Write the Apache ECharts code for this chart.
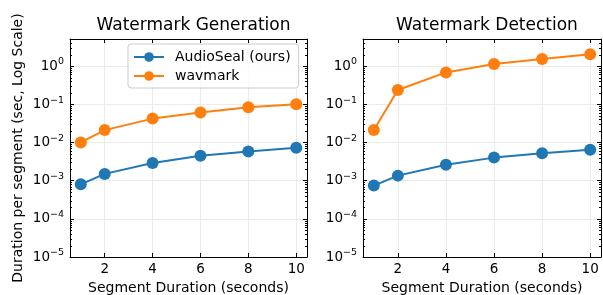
<!DOCTYPE html>
<html>
<head>
<meta charset="utf-8">
<script src="https://cdn.jsdelivr.net/npm/echarts@6/dist/echarts.min.js"></script>
<style>
  html, body { margin: 0; padding: 0; background: #fff; }
  #main { width: 603px; height: 295px; }
</style>
</head>
<body>
<div id="main"></div>
<script>
"use strict";

// segment durations (seconds)
var segments = [1, 2, 4, 6, 8, 10];

// watermark generation, sec per segment
var genAudioSeal = [0.0008, 0.0015, 0.0029, 0.0045, 0.0058, 0.0072];
var genWavmark = [0.010, 0.021, 0.042, 0.061, 0.083, 0.100];

// watermark detection, sec per segment
var detAudioSeal = [0.00074, 0.00135, 0.0026, 0.0040, 0.0052, 0.0064];
var detWavmark = [0.021, 0.235, 0.68, 1.13, 1.52, 2.02];

var seriesNames = ["AudioSeal (ours)", "wavmark"];
var titles = ["Watermark Generation", "Watermark Detection"];

var yMin = 1e-5, yMax = 5.1;
var xMin = 0.55, xMax = 10.45;

var blue = "#1f77b4", orange = "#ff7f0e";
var font = "DejaVu Sans";

// minor ticks of the log axis (2..9 x 10^k)
var minorTickValues = [];
for (var k = -5; k <= 0; k++) {
  for (var m = 2; m <= 9; m++) {
    var v = m * Math.pow(10, k);
    if (v <= yMax) minorTickValues.push(v);
  }
}

function pairs(ys) {
  return segments.map(function (x, i) { return [x, ys[i]]; });
}

function logLabel(v) {
  var e = Math.log10(v);
  var r = Math.round(e);
  if (Math.abs(e - r) > 1e-6) return "";
  var s = r < 0 ? "\u2212" + (-r) : String(r);
  return "{b|10}{s|" + s + "}";
}

function xLabel(v) {
  if (Math.abs(v - Math.round(v)) > 1e-6) return "";
  return String(Math.round(v));
}

var grids = [
  { left: 70, top: 39, width: 237, height: 218, outerBoundsMode: "none", containLabel: false },
  { left: 363, top: 39, width: 238, height: 218, outerBoundsMode: "none", containLabel: false }
];

var xAxes = [], yAxes = [], series = [];

grids.forEach(function (g, gi) {
  // bottom + top x axes
  xAxes.push({
    type: "value", gridIndex: gi, min: xMin, max: xMax, splitNumber: 5,
    position: "bottom",
    name: "Segment Duration (seconds)", nameLocation: "middle", nameGap: 22,
    nameTextStyle: { fontFamily: font, fontSize: 14, color: "#000" },
    axisLine: { show: true, onZero: false, lineStyle: { color: "#000", width: 1 } },
    axisTick: { show: true, inside: true, length: 4, lineStyle: { color: "#000" } },
    axisLabel: { formatter: xLabel, fontFamily: font, fontSize: 13.5, color: "#000", margin: 5 },
    splitLine: { show: true, lineStyle: { color: "#ebebeb", width: 1 } }
  });
  xAxes.push({
    type: "value", gridIndex: gi, min: xMin, max: xMax, splitNumber: 5,
    position: "top",
    axisLine: { show: true, onZero: false, lineStyle: { color: "#000", width: 1 } },
    axisTick: { show: true, inside: true, length: 4, lineStyle: { color: "#000" } },
    axisLabel: { show: false },
    splitLine: { show: false }
  });
  // left + right y axes
  yAxes.push({
    type: "log", logBase: 10, gridIndex: gi, min: yMin, max: yMax,
    position: "left",
    name: gi === 0 ? "Duration per segment (sec, Log Scale)" : "",
    nameLocation: "middle", nameGap: 45, nameRotate: 90,
    nameTextStyle: { fontFamily: font, fontSize: 14, color: "#000" },
    axisLine: { show: true, lineStyle: { color: "#000", width: 1 } },
    axisTick: { show: true, inside: true, length: 4, lineStyle: { color: "#000" } },
    axisLabel: {
      formatter: logLabel, color: "#000", margin: 6,
      rich: {
        b: { fontFamily: font, fontSize: 13.5, color: "#000" },
        s: { fontFamily: font, fontSize: 9.5, color: "#000", verticalAlign: "top", padding: [0, 0, 8, 0] }
      }
    },
    splitLine: { show: true, lineStyle: { color: "#ebebeb", width: 1 } }
  });
  yAxes.push({
    type: "log", logBase: 10, gridIndex: gi, min: yMin, max: yMax,
    position: "right",
    axisLine: { show: true, lineStyle: { color: "#000", width: 1 } },
    axisTick: { show: true, inside: true, length: 4, lineStyle: { color: "#000" } },
    axisLabel: { show: false },
    splitLine: { show: false }
  });
});

function lineSeries(name, gi, ys, color) {
  return {
    name: name, type: "line", xAxisIndex: gi * 2, yAxisIndex: gi * 2,
    data: pairs(ys),
    symbol: "circle", symbolSize: 12,
    lineStyle: { color: color, width: 2 },
    itemStyle: { color: color },
    emphasis: { disabled: true },
    z: 5
  };
}

series.push(lineSeries(seriesNames[0], 0, genAudioSeal, blue));
series.push(lineSeries(seriesNames[1], 0, genWavmark, orange));
series.push(lineSeries(seriesNames[0], 1, detAudioSeal, blue));
series.push(lineSeries(seriesNames[1], 1, detWavmark, orange));

// minor ticks, drawn through the log scale
[0, 1].forEach(function (gi) {
  series.push({
    type: "custom", xAxisIndex: gi * 2, yAxisIndex: gi * 2,
    silent: true, z: 3,
    data: minorTickValues.map(function (v) { return [xMin, v]; }),
    renderItem: function (params, api) {
      var cs = params.coordSys;
      var y = Math.round(api.coord([xMin, api.value(1)])[1]) + 0.5;
      var st = { stroke: "#000", lineWidth: 1 };
      return {
        type: "group",
        children: [
          { type: "line", shape: { x1: cs.x, y1: y, x2: cs.x + 2, y2: y }, style: st },
          { type: "line", shape: { x1: cs.x + cs.width - 2, y1: y, x2: cs.x + cs.width, y2: y }, style: st }
        ]
      };
    }
  });
});

var chart = echarts.init(document.getElementById("main"), null, { renderer: "canvas" });
chart.setOption({
  animation: false,
  backgroundColor: "#fff",
  title: titles.map(function (t, i) {
    return {
      text: t, left: grids[i].left + grids[i].width / 2, top: 12, textAlign: "center",
      textStyle: { fontFamily: font, fontSize: 17, fontWeight: "normal", color: "#000" }
    };
  }),
  legend: {
    data: seriesNames, orient: "vertical", left: 128, top: 44,
    itemWidth: 30, itemHeight: 12, itemGap: 5,
    padding: [6, 8, 5, 5],
    borderColor: "#cccccc", borderWidth: 1, borderRadius: 3,
    backgroundColor: "rgba(255,255,255,0.8)",
    textStyle: { fontFamily: font, fontSize: 14, color: "#000", padding: [0, 0, 0, 6] }
  },
  grid: grids,
  xAxis: xAxes,
  yAxis: yAxes,
  series: series
});
</script>
</body>
</html>
